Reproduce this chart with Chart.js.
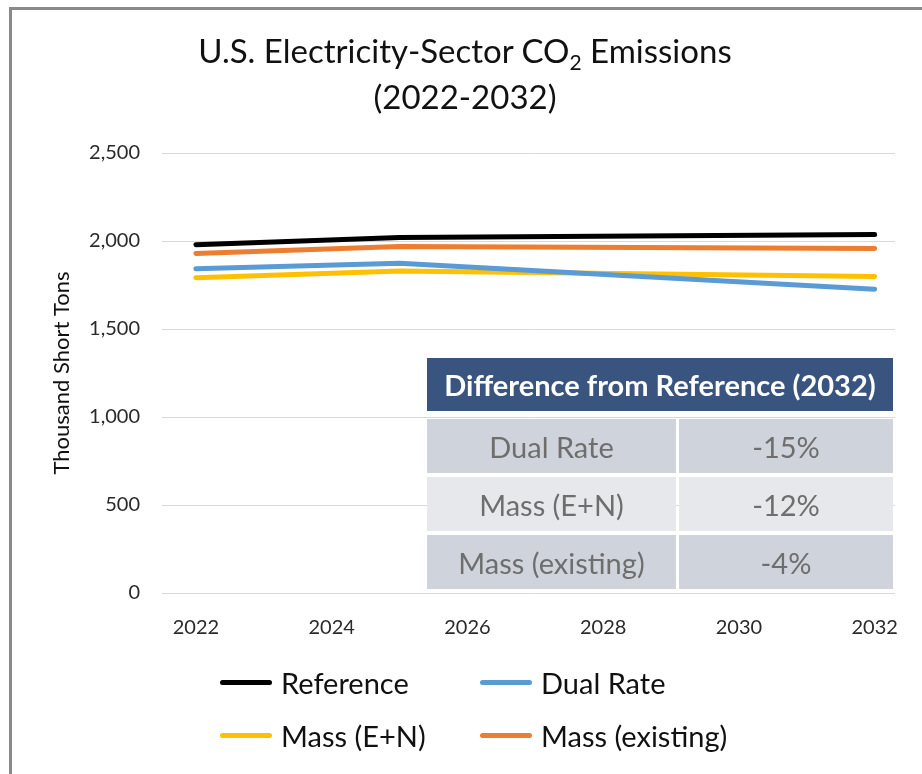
<!DOCTYPE html>
<html>
<head>
<meta charset="utf-8">
<script src="https://cdn.jsdelivr.net/npm/chart.js@4/dist/chart.umd.min.js"></script>
<style>
  html, body { margin: 0; padding: 0; background: #fff; }
  body { width: 922px; height: 774px; position: relative; overflow: hidden; font-family: Lato, "Open Sans", sans-serif; }
  #wrap { position: absolute; left: 0; top: 0; width: 922px; height: 774px; }
  #frame { position: absolute; left: 9px; top: 7px; width: 1000px; height: 1000px; border-left: 3px solid #8a8a8a; border-top: 3px solid #8a8a8a; pointer-events: none; }
  #title { position: absolute; left: 4px; top: 27px; width: 922px; text-align: center; font-size: 33px; line-height: 46px; color: #111; white-space: nowrap; }
  #title sub { font-size: 21px; vertical-align: -7px; line-height: 0; }
  #tbl { position: absolute; left: 427px; top: 358px; width: 466px; }
  #tbl .hd { height: 53px; background: #3a5480; color: #fff; font-weight: bold; font-size: 29px; display: flex; align-items: center; justify-content: center; margin-bottom: 8px; white-space: nowrap; }
  #tbl .row { display: flex; height: 54px; margin-bottom: 4px; }
  #tbl .cell { display: flex; align-items: center; justify-content: center; font-size: 29px; color: #6e6e6e; white-space: nowrap; }
  #tbl .c1 { width: 249px; margin-right: 3px; }
  #tbl .c2 { flex: 1; }
  #tbl .odd .cell { background: #cfd3dc; }
  #tbl .even .cell { background: #e7e8ec; }
  #legend { position: absolute; left: 0; top: 0; }
  .lg { position: absolute; display: flex; align-items: center; font-size: 29px; color: #111; height: 36px; white-space: nowrap; }
  .lg .sw { width: 52px; height: 5px; border-radius: 3px; margin-right: 9px; }
</style>
</head>
<body>
<div id="wrap"><canvas id="c" width="922" height="774"></canvas></div>
<div id="title">U.S. Electricity-Sector CO<sub>2</sub> Emissions<br>(2022-2032)</div>
<div id="tbl"></div>
<div id="legend"></div>
<div id="frame"></div>
<script>
// ---- data ----
const years = [2022, 2025, 2032];
const seriesNames = ["Reference", "Dual Rate", "Mass (E+N)", "Mass (existing)"];
const reference = [1979, 2020, 2037];
const dualRate = [1842, 1874, 1726];
const massEN = [1791, 1830, 1799];
const massExisting = [1929, 1969, 1958];
const xTickLabels = [2022, 2024, 2026, 2028, 2030, 2032];
const yTickValues = [0, 500, 1000, 1500, 2000, 2500];
const tableHeader = "Difference from Reference (2032)";
const tableRows = ["Dual Rate", "Mass (E+N)", "Mass (existing)"];
const tableValues = ["-15%", "-12%", "-4%"];

const colors = ["#000000", "#5b9bd5", "#ffc000", "#ed7d31"];
const allSeries = [reference, dualRate, massEN, massExisting];

// ---- table ----
const tbl = document.getElementById('tbl');
let html = '<div class="hd">' + tableHeader + '</div>';
tableRows.forEach((r, i) => {
  html += '<div class="row ' + (i % 2 === 0 ? 'odd' : 'even') + '"><div class="cell c1">' + r + '</div><div class="cell c2">' + tableValues[i] + '</div></div>';
});
tbl.innerHTML = html;

// ---- legend ----
const legendPos = [[220, 664], [480, 664], [220, 717], [480, 717]];
const lg = document.getElementById('legend');
seriesNames.forEach((n, i) => {
  const d = document.createElement('div');
  d.className = 'lg';
  d.style.left = legendPos[i][0] + 'px';
  d.style.top = legendPos[i][1] + 'px';
  d.innerHTML = '<div class="sw" style="background:' + colors[i] + '"></div><span>' + n + '</span>';
  lg.appendChild(d);
});

// ---- chart ----
const datasets = seriesNames.map((n, i) => ({
  label: n,
  data: years.map((y, k) => ({ x: y, y: allSeries[i][k] })),
  borderColor: colors[i],
  backgroundColor: colors[i],
  borderWidth: 5,
  borderCapStyle: 'round',
  borderJoinStyle: 'round',
  pointRadius: 0,
  tension: 0,
  fill: false
}));

new Chart(document.getElementById('c'), {
  type: 'line',
  data: { datasets },
  options: {
    responsive: false,
    animation: false,
    layout: { padding: { left: 0, right: 27, top: 153, bottom: 121 } },
    plugins: { legend: { display: false }, title: { display: false }, tooltip: { enabled: false } },
    scales: {
      x: {
        type: 'linear',
        min: 2021.5,
        max: 2032.3,
        afterBuildTicks: (s) => { s.ticks = xTickLabels.map(v => ({ value: v })); },
        ticks: { callback: (v) => String(v), color: '#2a2a2a', font: { family: 'Lato', size: 20 }, padding: 23, maxRotation: 0, autoSkip: false },
        grid: { display: false, drawTicks: false },
        border: { display: false },
        afterFit: (s) => { s.height = 60; }
      },
      y: {
        min: 0,
        max: 2500,
        afterBuildTicks: (s) => { s.ticks = yTickValues.map(v => ({ value: v })); },
        ticks: { callback: (v) => v.toLocaleString('en-US'), color: '#2a2a2a', font: { family: 'Lato', size: 20 }, padding: 22 },
        grid: { color: '#d9d9d9', lineWidth: 1, drawTicks: false },
        border: { display: false },
        title: { display: true, text: 'Thousand Short Tons', color: '#111', font: { family: 'Lato', size: 22 }, padding: { top: 49, bottom: 0 } },
        afterFit: (s) => { s.width = 162; }
      }
    }
  }
});
</script>
</body>
</html>
